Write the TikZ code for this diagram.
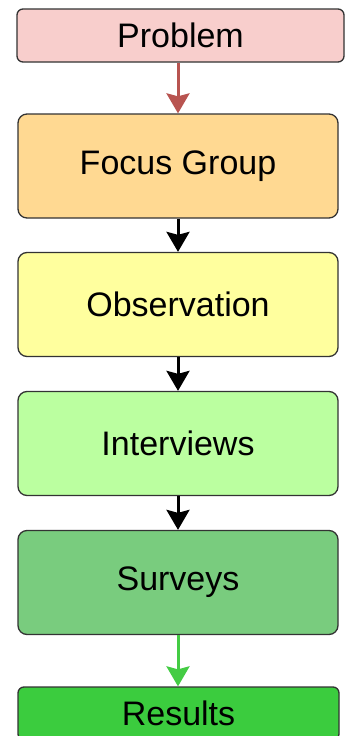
\documentclass[tikz,border=0pt]{standalone}
\usepackage{fontspec}
\setmainfont{Liberation Sans}
\usetikzlibrary{arrows.meta}
\definecolor{probfill}{HTML}{F8CECC}
\definecolor{focusfill}{HTML}{FFD992}
\definecolor{obsfill}{HTML}{FFFF9E}
\definecolor{intfill}{HTML}{BBFFA0}
\definecolor{survfill}{HTML}{79CC7E}
\definecolor{resfill}{HTML}{3BCC3E}
\definecolor{edge}{HTML}{333333}
\definecolor{redarrow}{HTML}{B85450}
\definecolor{greenarrow}{HTML}{44CC44}
\tikzset{
  box/.style={draw=edge, line width=1.3pt, rounded corners=9pt, minimum width=320pt, minimum height=104pt, inner sep=0pt, font=\fontsize{34}{39}\selectfont},
  smallbox/.style={box, rounded corners=6pt, minimum height=53pt},
  flow/.style={line width=3pt, -{Stealth[length=20pt, width=23pt, inset=3pt]}},
}
\begin{document}
\begin{tikzpicture}[x=1pt, y=-1pt]
\useasboundingbox (0,0) rectangle (346,736);
\fill[white] (0,0) rectangle (346,736);
\begin{scope}
\clip (0,0) rectangle (346,736);
\node[smallbox, fill=probfill, minimum width=327pt] (prob) at (180.5,35.5) {Problem};
\node[box, fill=focusfill] (focus) at (178,166) {Focus Group};
\node[box, fill=obsfill] (obs) at (178,304.5) {Observation};
\node[box, fill=intfill] (int) at (178,443.5) {Interviews};
\node[box, fill=survfill] (surv) at (178,582.5) {Surveys};
\node[smallbox, fill=resfill, minimum width=321pt] (res) at (178.5,713.5) {Results};
\draw[flow, redarrow] (focus.north |- prob.south) -- (focus.north);
\draw[flow, black] (focus.south) -- (obs.north);
\draw[flow, black] (obs.south) -- (int.north);
\draw[flow, black] (int.south) -- (surv.north);
\draw[flow, greenarrow] (surv.south) -- (res.north -| surv.south);
\end{scope}
\end{tikzpicture}
\end{document}
